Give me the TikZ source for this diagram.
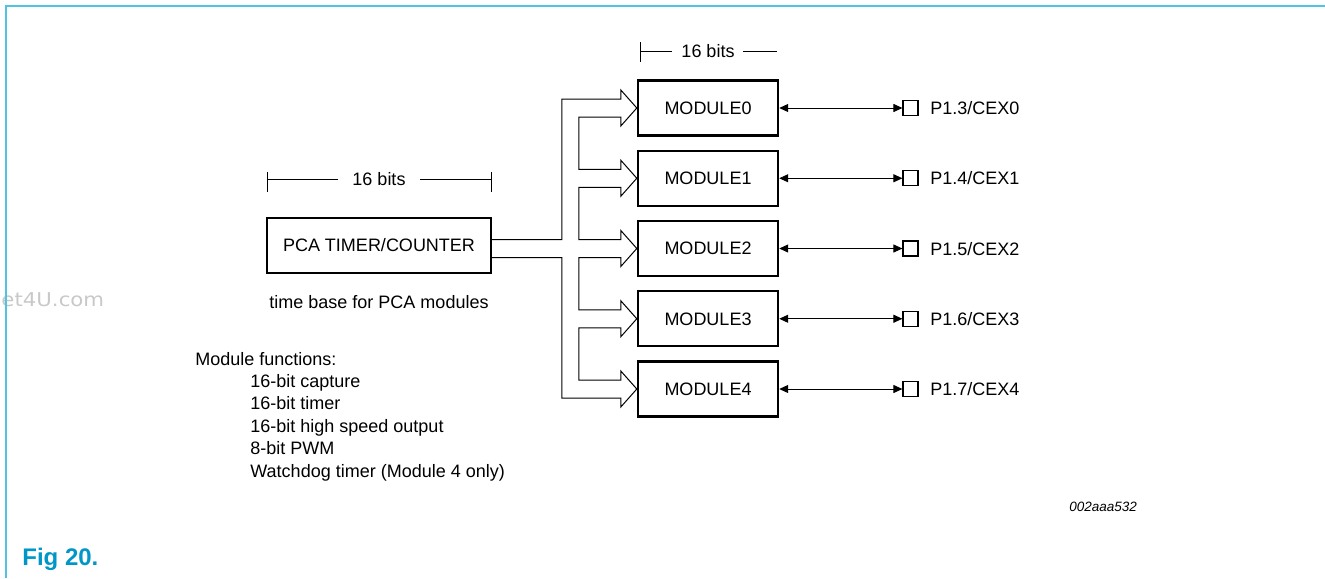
\documentclass[tikz,border=0pt]{standalone}
\usepackage{fontspec}
\setmainfont{Liberation Sans}
\newfontfamily\wmfont{DejaVu Sans}
\usetikzlibrary{arrows.meta,calc}
\definecolor{frameblue}{RGB}{80,195,228}
\definecolor{figblue}{RGB}{0,150,200}
\definecolor{wmgray}{RGB}{200,200,200}
\tikzset{
  txt/.style={inner sep=0pt, font=\fontsize{9}{11}\selectfont, anchor=base west},
  blk/.style={draw, line width=1.2pt, minimum width=70pt, minimum height=27.5pt,
    inner sep=0pt, font=\fontsize{9}{11}\selectfont, text height=6.45pt, text depth=0pt},
  pin/.style={draw, line width=0.6pt, minimum size=7.5pt, inner sep=0pt},
  thin/.style={line width=0.5pt},
  tri/.style={{Triangle[length=4.5pt,width=4pt]}-{Triangle[length=4.5pt,width=4pt]}},
  hollowin/.style={insert path={-- ($(#1.west)+(-16,-9)$) -- ($(#1.west)+(-16,-18)$)
     -- (#1.west) -- ($(#1.west)+(-16,18)$) -- ($(#1.west)+(-16,9)$)}}
}
\begin{document}
\begin{tikzpicture}[x=0.5pt,y=-0.5pt]
\useasboundingbox (0,0) rectangle (1325,578);
\clip (0,0) rectangle (1325,578);

% watermark
\node[anchor=base west, inner sep=0pt, text=wmgray, xscale=1.12,
  font=\wmfont\fontsize{9.5}{11}\selectfont] (wm) at (1,306) {et4U.com};

% frame
\draw[frameblue, line width=1pt] (6,578) -- (6,6) -- (1325,6);

% PCA block
\node[blk, minimum width=112pt] (pca) at (379,245.5) {PCA TIMER/COUNTER};
\node[txt, anchor=base] (tb) at (379,308) {time base for PCA modules};

% left dimension
\coordinate (la) at (267,179);
\coordinate (lb) at (491,179);
\draw[thin] (267,172) -- (267,192);
\draw[thin] (491,172) -- (491,192);
\node[txt, anchor=base] (lbits) at (379,185.5) {16 bits};
\draw[thin] (la) -- (338,179);
\draw[thin] (420,179) -- (lb);

% top dimension
\coordinate (ta) at (640,51);
\draw[thin] (640,42) -- (640,62);
\node[txt, anchor=base] (tbits) at (708,57) {16 bits};
\draw[thin] (ta) -- (672,51);
\draw[thin] (743,51) -- (777,51);

% modules, pins
\foreach \i [evaluate=\i as \c using 108+70.25*\i,
             evaluate=\i as \j using int(\i+3)] in {0,...,4} {
  \node[blk] (m\i) at (708,\c) {MODULE\i};
  \node[pin] (p\i) at (910.5,\c) {};
  \node[txt] (l\i) at (930,\c+6.5) {P1.\j/CEX\i};
  \draw[thin, tri] (m\i.east) -- (p\i.west);
}

% bus
\coordinate (bA) at ($(m2.west)+(0,-9)$);
\coordinate (bB) at ($(m2.west)+(0,9)$);
\draw[thin, line join=miter]
  (pca.east |- bA) -- ($(m2.west)+(-75,-9)$) -- ($(m0.west)+(-75,-9)$) [hollowin=m0]
  -- ($(m0.west)+(-58,9)$) -- ($(m1.west)+(-58,-9)$) [hollowin=m1]
  -- ($(m1.west)+(-58,9)$) -- ($(m2.west)+(-58,-9)$) [hollowin=m2]
  -- ($(m2.west)+(-58,9)$) -- ($(m3.west)+(-58,-9)$) [hollowin=m3]
  -- ($(m3.west)+(-58,9)$) -- ($(m4.west)+(-58,-9)$) [hollowin=m4]
  -- ($(m4.west)+(-75,9)$) -- ($(m2.west)+(-75,9)$) -- (pca.east |- bB);

% module functions
\node[txt] (mf) at (195,365) {Module functions:};
\foreach \t [count=\k from 0] in {16-bit capture, 16-bit timer, 16-bit high speed output,
    8-bit PWM, Watchdog timer (Module 4 only)} {
  \node[txt] (f\k) at (250,387.5+22.4*\k) {\t};
}

% code
\node[anchor=base west, inner sep=0pt, font=\fontsize{6.75}{8}\selectfont\itshape]
  (code) at (1069,511) {002aaa532};

% figure label
\node[anchor=base west, inner sep=0pt, text=figblue, font=\fontsize{12}{14}\selectfont\bfseries]
  (fig) at (22,565) {Fig 20.};
\end{tikzpicture}
\end{document}
